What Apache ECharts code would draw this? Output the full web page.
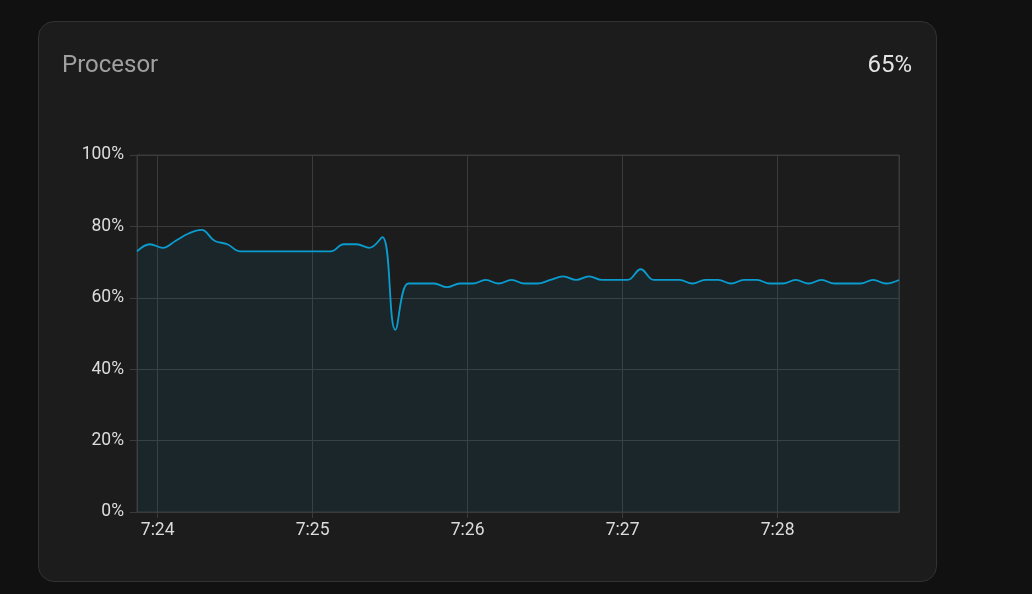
<!DOCTYPE html>
<html>
<head>
<meta charset="utf-8">
<script src="https://cdn.jsdelivr.net/npm/echarts@6/dist/echarts.min.js"></script>
<style>
  html, body { margin:0; padding:0; background:#111111; width:1032px; height:594px; overflow:hidden; }
  #card { position:absolute; left:38px; top:21px; width:897px; height:559px; background:#1c1c1c; border:1px solid #323232; border-radius:16px; }
  #chart { position:absolute; left:0; top:0; width:1032px; height:594px; }
</style>
</head>
<body>
<div id="card"></div>
<div id="chart"></div>
<script>
const DAY = '2024-01-01';
const titleText = 'Procesor';
const currentValue = '65%';
const times = [
  '07:23:52','07:23:57',
  '07:24:02','07:24:07','07:24:12','07:24:17','07:24:22','07:24:27','07:24:32','07:24:37','07:24:42','07:24:47','07:24:52','07:24:57',
  '07:25:02','07:25:07','07:25:12','07:25:17','07:25:22','07:25:27','07:25:32','07:25:37','07:25:42','07:25:47','07:25:52','07:25:57',
  '07:26:02','07:26:07','07:26:12','07:26:17','07:26:22','07:26:27','07:26:32','07:26:37','07:26:42','07:26:47','07:26:52','07:26:57',
  '07:27:02','07:27:07','07:27:12','07:27:17','07:27:22','07:27:27','07:27:32','07:27:37','07:27:42','07:27:47','07:27:52','07:27:57',
  '07:28:02','07:28:07','07:28:12','07:28:17','07:28:22','07:28:27','07:28:32','07:28:37','07:28:42','07:28:47'
];
const cpuValues = [
  73,75,
  74,76,78,79,76,75,73,73,73,73,73,73,
  73,73,75,75,74,77,51,64,64,64,63,64,
  64,65,64,65,64,64,65,66,65,66,65,65,
  65,68,65,65,65,64,65,65,64,65,65,64,
  64,65,64,65,64,64,64,65,64,65
];
const yTicks = [0, 20, 40, 60, 80, 100];

const data = times.map((t, i) => [DAY + ' ' + t, cpuValues[i]]);
const chart = echarts.init(document.getElementById('chart'));
const gridColor = '#3b3b3b';
chart.setOption({
  backgroundColor: 'transparent',
  animation: false,
  title: [
    { text: titleText, left: 57, top: 49, textStyle: { color: '#a0a0a0', fontSize: 24, fontWeight: 'normal', fontFamily: 'Roboto' } },
    { text: currentValue, right: 115, top: 49, textStyle: { color: '#e4e4e4', fontSize: 24, fontWeight: 'normal', fontFamily: 'Roboto' } }
  ],
  grid: { left: 137, right: 133, top: 155, bottom: 82, show: true, borderColor: gridColor, borderWidth: 1 },
  xAxis: {
    type: 'time',
    min: DAY + ' ' + times[0],
    max: DAY + ' ' + times[times.length - 1],
    minInterval: 60000,
    maxInterval: 60000,
    axisLine: { show: true, lineStyle: { color: gridColor } },
    axisTick: { show: true, length: 6, lineStyle: { color: gridColor } },
    splitLine: { show: true, lineStyle: { color: gridColor } },
    axisLabel: { color: '#dcdcdc', fontSize: 17.5, fontFamily: 'Roboto', margin: 10, showMinLabel: false, showMaxLabel: false, formatter: '{H}:{mm}' }
  },
  yAxis: {
    type: 'value',
    min: yTicks[0],
    max: yTicks[yTicks.length - 1],
    interval: 20,
    axisLine: { show: true, lineStyle: { color: gridColor } },
    axisTick: { show: true, length: 7, lineStyle: { color: gridColor } },
    splitLine: { show: true, lineStyle: { color: gridColor } },
    axisLabel: { color: '#dcdcdc', fontSize: 17.5, fontFamily: 'Roboto', margin: 13, formatter: '{value}%' }
  },
  series: [{
    type: 'line',
    data: data,
    smooth: 0.4,
    symbol: 'none',
    lineStyle: { color: '#0b9ccf', width: 1.8 },
    areaStyle: { color: 'rgba(8,150,180,0.12)' }
  }]
});
</script>
</body>
</html>
